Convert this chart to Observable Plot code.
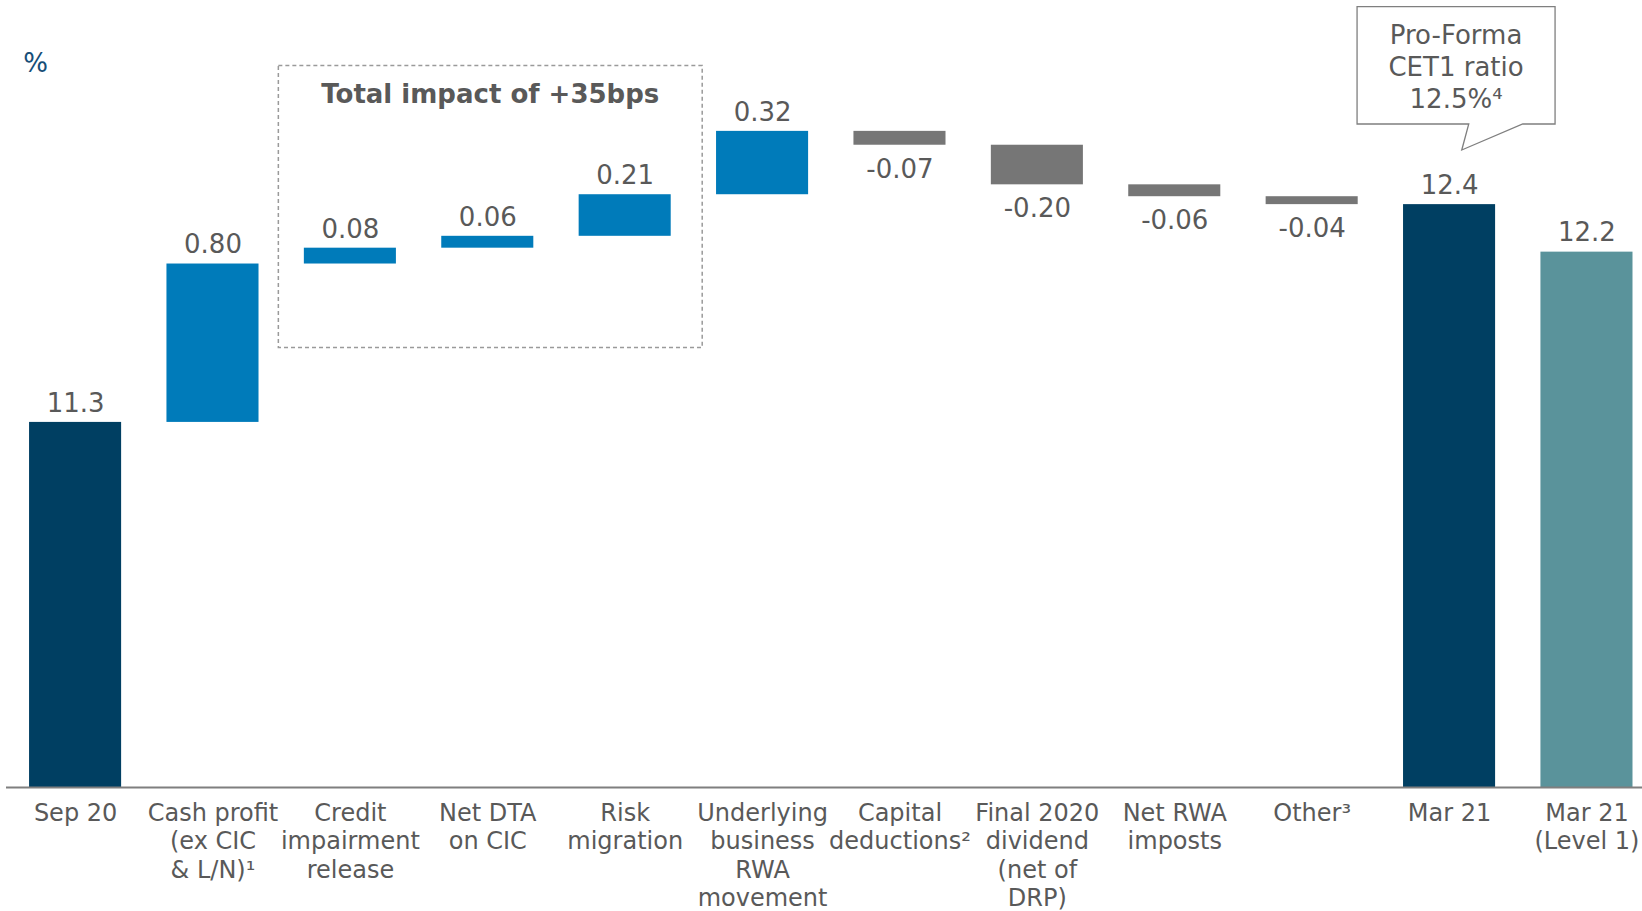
<!DOCTYPE html>
<html>
<head>
<meta charset="utf-8">
<script src="https://cdn.jsdelivr.net/npm/d3@7"></script>
<script src="https://cdn.jsdelivr.net/npm/@observablehq/plot@0.6"></script>
<style>
  html, body { margin: 0; padding: 0; background: #ffffff; }
  #chart { position: relative; width: 1642px; height: 911px; }
  #chart svg { display: block; }
</style>
</head>
<body>
<div id="chart"></div>
<script>
// ---- data ----
const categories = ["Sep 20", "Cash profit", "Credit impairment", "Net DTA", "Risk migration",
  "Underlying", "Capital deductions", "Final dividend", "Net RWA", "Other", "Mar 21", "Mar 21 L1"];
const tickLabels = ["Sep 20", "Cash profit\n(ex CIC\n& L/N)¹", "Credit\nimpairment\nrelease", "Net DTA\non CIC",
  "Risk\nmigration", "Underlying\nbusiness\nRWA\nmovement", "Capital\ndeductions²", "Final 2020\ndividend\n(net of\nDRP)",
  "Net RWA\nimposts", "Other³", "Mar 21", "Mar 21\n(Level 1)"];
const values = [11.3, 0.80, 0.08, 0.06, 0.21, 0.32, -0.07, -0.20, -0.06, -0.04, 12.4, 12.16];
const kinds = ["total", "up", "up", "up", "up", "up", "down", "down", "down", "down", "total", "level1"];
const valueLabels = ["11.3", "0.80", "0.08", "0.06", "0.21", "0.32", "-0.07", "-0.20", "-0.06", "-0.04", "12.4", "12.2"];
const yFloor = 9.456;
const yTop = 13.431;
const boxTitle = "Total impact of +35bps";
const calloutLines = ["Pro-Forma", "CET1 ratio", "12.5%⁴"];

const colors = { total: "#003f62", up: "#007bba", down: "#767676", level1: "#5a939b" };

// ---- build waterfall rows ----
let running = 0;
const rows = categories.map((c, i) => {
  const v = values[i], k = kinds[i];
  let y1, y2;
  if (k === "total" || k === "level1") { y1 = yFloor; y2 = v; running = v; }
  else { y1 = running; y2 = running + v; running = y2; }
  return { cat: c, y1, y2, kind: k, label: valueLabels[i], top: Math.max(y1, y2), bottom: Math.min(y1, y2), neg: v < 0 };
});

const chart = Plot.plot({
  width: 1642,
  height: 911,
  marginTop: 0,
  marginBottom: 124,
  marginLeft: 6,
  marginRight: 0,
  style: { fontFamily: "'DejaVu Sans', Verdana, sans-serif", background: "#ffffff", overflow: "visible" },
  x: { domain: categories, paddingInner: 0.33, paddingOuter: 0.1185, align: 0.708, round: false, label: null, axis: null },
  y: { domain: [yFloor, yTop], axis: null },
  marks: [
    Plot.barY(rows, { x: "cat", y1: "y1", y2: "y2", fill: d => colors[d.kind] }),
    Plot.ruleY([yFloor], { stroke: "#7f7f7f", strokeWidth: 2 }),
    Plot.text(rows, {
      x: "cat",
      y: "top",
      text: "label",
      fontSize: 26,
      fill: "#595959",
      lineAnchor: "middle",
      filter: d => !d.neg,
      dy: -19
    }),
    Plot.text(rows, {
      x: "cat",
      y: "bottom",
      text: "label",
      fontSize: 26,
      fill: "#595959",
      lineAnchor: "middle",
      filter: d => d.neg,
      dy: 24
    }),
    Plot.axisX({
      tickSize: 0,
      tickPadding: 13,
      fontSize: 24,
      lineHeight: 1.19,
      fill: "#595959",
      label: null,
      tickFormat: d => tickLabels[categories.indexOf(d)]
    })
  ]
});

document.getElementById("chart").appendChild(chart);

// ---- annotations positioned through the chart's scales ----
const xs = chart.scale("x");
const ys = chart.scale("y");
const bw = xs.bandwidth;
const svg = d3.select(chart);

// "%" unit label
svg.append("text")
  .attr("x", 35.5).attr("y", 63).attr("dy", "0.35em")
  .attr("text-anchor", "middle")
  .attr("font-size", 26).attr("fill", "#164e78")
  .text("%");

// dashed group box
const bx1 = xs.apply("Credit impairment") - 25.5;
const bx2 = xs.apply("Risk migration") + bw + 31.5;
const by1 = ys.apply(13.1);
const by2 = ys.apply(11.676);
svg.append("rect")
  .attr("x", bx1).attr("y", by1)
  .attr("width", bx2 - bx1).attr("height", by2 - by1)
  .attr("fill", "none").attr("stroke", "#9a9a9a")
  .attr("stroke-width", 1.5).attr("stroke-dasharray", "4,3");
svg.append("text")
  .attr("x", (bx1 + bx2) / 2).attr("y", by1 + 28).attr("dy", "0.35em")
  .attr("text-anchor", "middle").attr("font-size", 26).attr("font-weight", "bold")
  .attr("fill", "#595959")
  .text(boxTitle);

// callout above Mar 21
const cx = xs.apply("Mar 21") + bw / 2;
const L = cx - 92, R = cx + 106, T = 6.7, B = 124;
svg.append("path")
  .attr("d", `M${L},${T}H${R}V${B}H${cx + 73.7}L${cx + 12.7},150L${cx + 19.7},${B}H${L}Z`)
  .attr("fill", "#ffffff").attr("stroke", "#7f7f7f").attr("stroke-width", 1.3);
calloutLines.forEach((t, i) => {
  svg.append("text")
    .attr("x", (L + R) / 2).attr("y", 35 + i * 32).attr("dy", "0.35em")
    .attr("text-anchor", "middle").attr("font-size", 26).attr("fill", "#595959")
    .text(t);
});
</script>
</body>
</html>
